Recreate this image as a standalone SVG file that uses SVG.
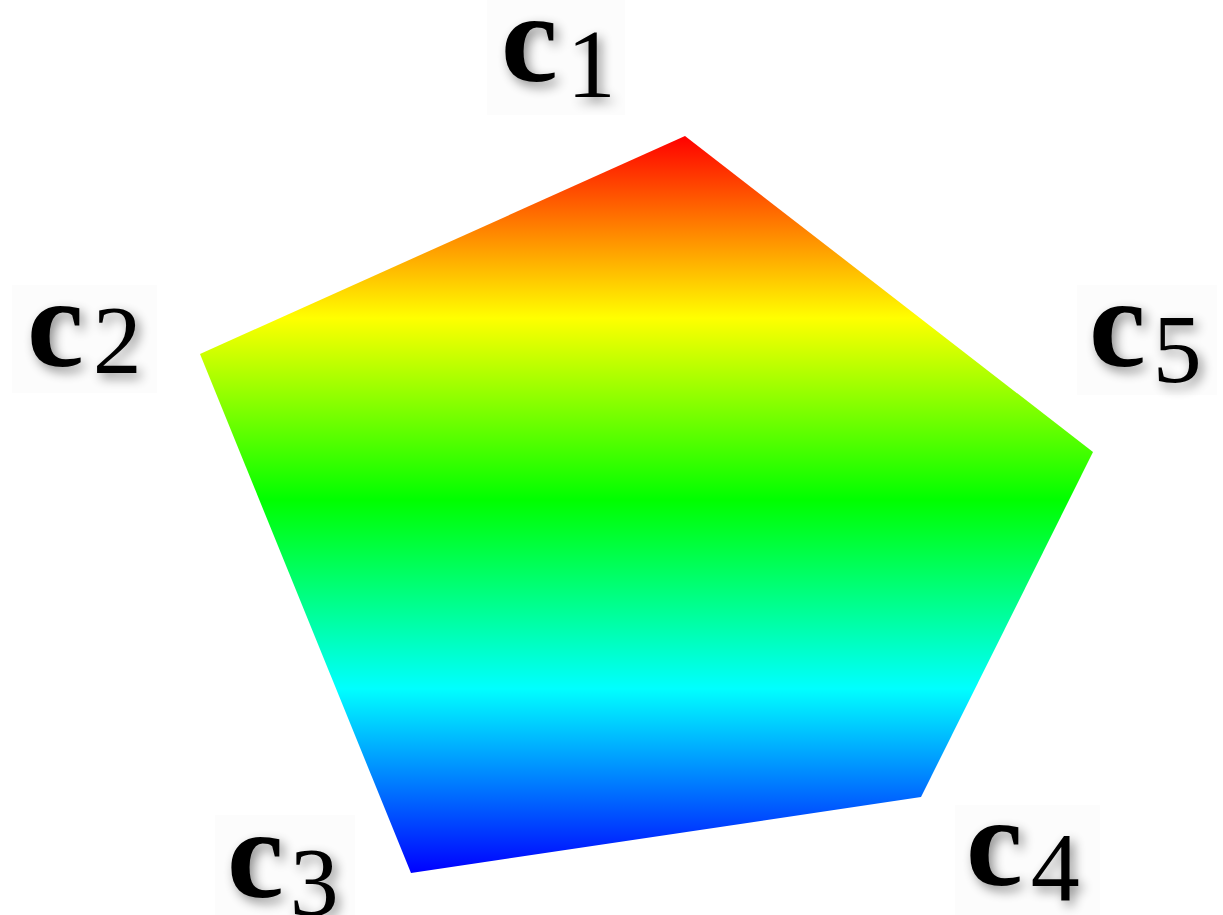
<svg xmlns="http://www.w3.org/2000/svg" width="1223" height="915" viewBox="0 0 1223 915">
<defs>
<linearGradient id="rainbow" gradientUnits="userSpaceOnUse" x1="0" y1="136" x2="0" y2="873">
<stop offset="0" stop-color="#ff0000"/>
<stop offset="0.247" stop-color="#ffff00"/>
<stop offset="0.494" stop-color="#00ff00"/>
<stop offset="0.75" stop-color="#00ffff"/>
<stop offset="1" stop-color="#0000ff"/>
</linearGradient>
<filter id="shadow" x="-30%" y="-30%" width="160%" height="160%">
<feGaussianBlur in="SourceAlpha" stdDeviation="6"/>
<feOffset dx="4" dy="5" result="b"/>
<feComponentTransfer><feFuncA type="linear" slope="0.45"/></feComponentTransfer>
<feMerge><feMergeNode/><feMergeNode in="SourceGraphic"/></feMerge>
</filter>
</defs>
<style>
.box{fill:#fcfcfc}
.lbl{font-family:"Liberation Serif",serif;fill:#000;filter:url(#shadow)}
.c{font-size:128px;font-weight:bold}
.n{font-size:98px}
</style>
<rect width="1223" height="915" fill="#fff"/>
<g id="pentagon">
<polygon points="685,136 200,354 411,873 921,797 1093,452" fill="url(#rainbow)"/>
</g>
<g id="c1">
<rect class="box" x="487" y="0" width="138" height="115"/>
<text class="lbl" x="501" y="81"><tspan class="c">c</tspan><tspan class="n" dx="9" dy="16">1</tspan></text>
</g>
<g id="c2">
<rect class="box" x="12" y="285" width="145" height="108"/>
<text class="lbl" x="27" y="366"><tspan class="c">c</tspan><tspan class="n" dx="9" dy="7">2</tspan></text>
</g>
<g id="c3">
<rect class="box" x="215" y="815" width="140" height="100"/>
<text class="lbl" x="227" y="897"><tspan class="c">c</tspan><tspan class="n" dx="6" dy="18">3</tspan></text>
</g>
<g id="c4">
<rect class="box" x="955" y="805" width="145" height="110"/>
<text class="lbl" x="966" y="885"><tspan class="c">c</tspan><tspan class="n" dx="8" dy="15">4</tspan></text>
</g>
<g id="c5">
<rect class="box" x="1077" y="285" width="140" height="110"/>
<text class="lbl" x="1089" y="366"><tspan class="c">c</tspan><tspan class="n" dx="7" dy="16">5</tspan></text>
</g>
</svg>
